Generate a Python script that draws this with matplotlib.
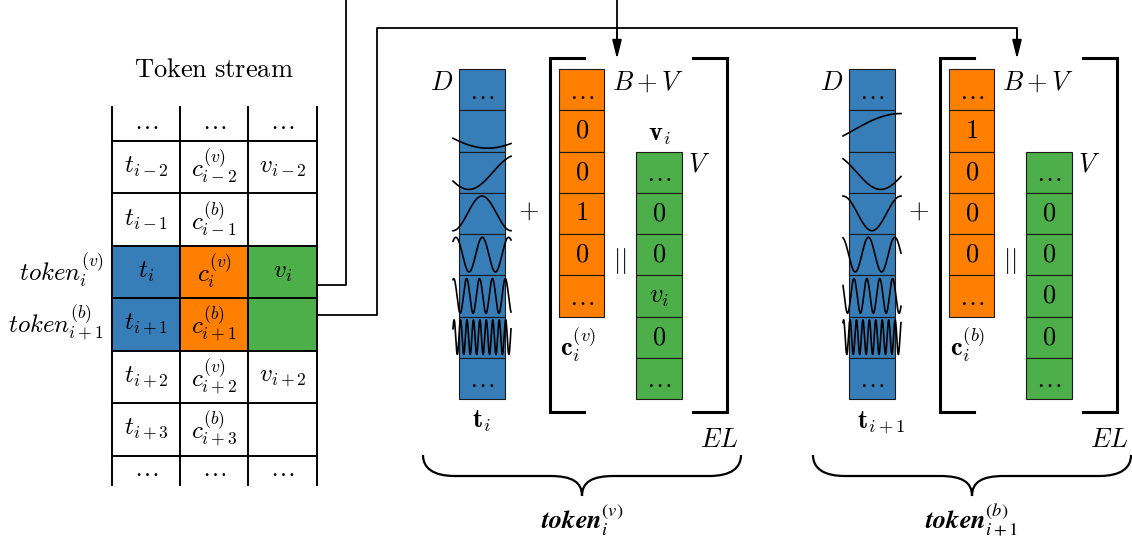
import matplotlib
matplotlib.use('Agg')
import matplotlib.pyplot as plt
import numpy as np
from matplotlib.patches import Rectangle, PathPatch
from matplotlib.path import Path
from matplotlib.font_manager import FontProperties
from matplotlib.mathtext import MathTextParser

plt.rcParams['mathtext.fontset'] = 'cm'

BLUE = '#377eb8'
ORANGE = '#ff7f00'
GREEN = '#4daf4a'

# token stream table (top to bottom)
stream_t = [r'\ldots', 't_{i-2}', 't_{i-1}', 't_i', 't_{i+1}', 't_{i+2}', 't_{i+3}', r'\ldots']
stream_c = [r'\ldots', 'c_{i-2}^{(v)}', 'c_{i-1}^{(b)}', 'c_i^{(v)}', 'c_{i+1}^{(b)}',
            'c_{i+2}^{(v)}', 'c_{i+3}^{(b)}', r'\ldots']
stream_v = [r'\ldots', 'v_{i-2}', '', 'v_i', '', 'v_{i+2}', '', r'\ldots']
highlight_rows = [3, 4]
row_labels = {3: r'$token_i^{(v)}$', 4: r'$token_{i+1}^{(b)}$'}

# embedding vectors for the two tokens
orange_vals = [[r'\ldots', '0', '0', '1', '0', r'\ldots'],
               [r'\ldots', '1', '0', '0', '0', r'\ldots']]
green_vals = [[r'\ldots', '0', '0', 'v_i', '0', r'\ldots'],
              [r'\ldots', '0', '0', '0', '0', r'\ldots']]
t_names = [r'$\mathbf{t}_i$', r'$\mathbf{t}_{i+1}$']
c_names = [r'$\mathbf{c}_i^{(v)}$', r'$\mathbf{c}_i^{(b)}$']
v_names = [r'$\mathbf{v}_i$', '']
group_words = [('token', '_i^{(v)}'), ('token', '_{i+1}^{(b)}')]

# positional encoding waves (cycles across the column, phase)
wave_freq = [0.3, 0.6, 1.0, 2.2, 4.5, 9.0]
wave_phase = [[-2.7, -2.6, -1.571, 0.88, 1.2, 0.5],
              [-0.3, 2.26, 1.571, 1.8, 2.5, 1.0]]


def bold_word(word, rest):
    parser = MathTextParser('agg')
    for fam, cmd in [('stix', r'\boldsymbol'), ('stix', r'\mathbfit'), ('cm', r'\mathbf')]:
        s = '$' + cmd + '{' + word + '}' + rest + '$'
        try:
            parser.parse(s, dpi=100, prop=FontProperties(size=18, math_fontfamily=fam))
            return s, fam
        except Exception:
            pass
    return '$' + word + rest + '$', 'cm'


fig = plt.figure(figsize=(11.32, 5.45), dpi=100)
ax = fig.add_axes([0, 0, 1, 1])
ax.set_xlim(0, 1132)
ax.set_ylim(545, 0)
ax.axis('off')

FS = 19
lw_grid = 1.4

# ---- token stream table ----
col_x = [112, 180, 248, 317]
row_y = [107, 141, 193, 246, 298, 351, 403, 456, 485]
ax.text(214, 77, r'$\mathrm{Token\ stream}$', fontsize=FS, ha='center', va='baseline')
for r in range(len(stream_t)):
    y0, y1 = row_y[r], row_y[r + 1]
    if r in highlight_rows:
        for k, col in enumerate([BLUE, ORANGE, GREEN]):
            ax.add_patch(Rectangle((col_x[k], y0), col_x[k + 1] - col_x[k], y1 - y0,
                                   facecolor=col, edgecolor='none'))
    for k, txt in enumerate([stream_t[r], stream_c[r], stream_v[r]]):
        if txt:
            yc = (y0 + y1) / 2 - (2 if r in (0, 7) else 0)
            ax.text((col_x[k] + col_x[k + 1]) / 2, yc, '$' + txt + '$', fontsize=18,
                    ha='center', va='center')
for x in col_x:
    ax.plot([x, x], [row_y[0], row_y[-1]], color='k', lw=lw_grid)
for y in row_y[1:-1]:
    ax.plot([col_x[0], col_x[-1]], [y, y], color='k', lw=lw_grid)
ax.text(104, 281, row_labels[3], fontsize=18, ha='right', va='baseline')
ax.text(104, 333, row_labels[4], fontsize=18, ha='right', va='baseline')

# ---- connectors ----
ax.plot([317, 346, 346], [285, 285, 0], color='k', lw=1.3)
ax.plot([317, 377, 377, 1017, 1017], [315, 315, 28, 28, 50], color='k', lw=1.3)
ax.plot([617, 617], [0, 50], color='k', lw=1.3)
for xa, ya in [(617, 30), (1017, 30)]:
    ax.annotate('', xy=(xa, 59), xytext=(xa, ya),
                arrowprops=dict(arrowstyle='-|>,head_length=0.8,head_width=0.2',
                                color='k', lw=1.3, mutation_scale=14,
                                shrinkA=0, shrinkB=0))

# ---- embedding groups ----
h = 41.25
top = 69
for g, dx in enumerate([0, 390]):
    bx = 459 + dx
    ox = 559 + dx
    gx = 636 + dx
    w = 46
    # blue positional column
    for i in range(8):
        ax.add_patch(Rectangle((bx, top + i * h), w, h, facecolor=BLUE,
                               edgecolor='#1a1a1a', lw=0.8))
    for i in (0, 7):
        ax.text(bx + w / 2, top + i * h + h / 2 + 2, r'$\ldots$', fontsize=FS,
                ha='center', va='center')
    u = np.linspace(0, 1, 300)
    xs = bx - 6 + u * (w + 12)
    for k in range(6):
        yc = top + (k + 1) * h + h / 2
        ys = yc - 0.42 * h * np.sin(2 * np.pi * wave_freq[k] * u + wave_phase[g][k])
        ax.plot(xs, ys, color='k', lw=1.2)
    # orange class column
    for i, txt in enumerate(orange_vals[g]):
        ax.add_patch(Rectangle((ox, top + i * h), w - 1, h, facecolor=ORANGE,
                               edgecolor='#1a1a1a', lw=0.8))
        yoff = 2 if txt == r'\ldots' else 0
        ax.text(ox + w / 2, top + i * h + h / 2 + yoff, '$' + txt + '$', fontsize=FS,
                ha='center', va='center')
    # green value column
    for i, txt in enumerate(green_vals[g]):
        ax.add_patch(Rectangle((gx, top + (i + 2) * h), w, h, facecolor=GREEN,
                               edgecolor='#1a1a1a', lw=0.8))
        yoff = 2 if txt == r'\ldots' else 0
        ax.text(gx + w / 2, top + (i + 2) * h + h / 2 + yoff, '$' + txt + '$',
                fontsize=FS, ha='center', va='center')
    # labels
    ax.text(bx - 6, 90, '$D$', fontsize=FS, ha='right', va='baseline')
    ax.text(ox + w + 7, 90, '$B+V$', fontsize=FS, ha='left', va='baseline')
    ax.text(gx + w + 6, 172, '$V$', fontsize=FS, ha='left', va='baseline')
    if v_names[g]:
        ax.text(gx + w / 2, 141, v_names[g], fontsize=FS, ha='center', va='baseline')
    ax.text(528 + dx, 211, '$+$', fontsize=FS, ha='center', va='center')
    ax.text(620 + dx, 261, r'$||$', fontsize=FS, ha='center', va='center')
    ax.text(ox + 1, 355, c_names[g], fontsize=FS, ha='left', va='baseline')
    ax.text(bx + 13 if g == 0 else bx + 8, 428, t_names[g], fontsize=FS,
            ha='left', va='baseline')
    ax.text(738 + dx, 447, '$EL$', fontsize=FS, ha='right', va='baseline')
    # brackets
    bl, br = 550 + dx, 727 + dx
    ax.plot([bl + 34, bl, bl, bl + 34], [58, 58, 412, 412], color='k', lw=2.2,
            solid_joinstyle='miter')
    ax.plot([br - 34, br, br, br - 34], [58, 58, 412, 412], color='k', lw=2.2,
            solid_joinstyle='miter')
    # brace
    x0, x1 = 423 + dx, 741 + dx
    xc = (x0 + x1) / 2
    yt, ym, yb = 455, 476, 496
    verts = [(x0, yt), (x0, ym - 8), (x0 + 10, ym), (x0 + 32, ym),
             (xc - 32, ym),
             (xc - 10, ym), (xc, ym + 6), (xc, yb),
             (xc, ym + 6), (xc + 10, ym), (xc + 32, ym),
             (x1 - 32, ym),
             (x1 - 10, ym), (x1, ym - 8), (x1, yt)]
    codes = [Path.MOVETO, Path.CURVE4, Path.CURVE4, Path.CURVE4,
             Path.LINETO,
             Path.CURVE4, Path.CURVE4, Path.CURVE4,
             Path.CURVE4, Path.CURVE4, Path.CURVE4,
             Path.LINETO,
             Path.CURVE4, Path.CURVE4, Path.CURVE4]
    ax.add_patch(PathPatch(Path(verts, codes), facecolor='none', edgecolor='k', lw=1.6))
    s, fam = bold_word(*group_words[g])
    ax.text(xc, 529, s, fontsize=FS, ha='center', va='baseline', math_fontfamily=fam)

fig.savefig('out.png', dpi=100)
